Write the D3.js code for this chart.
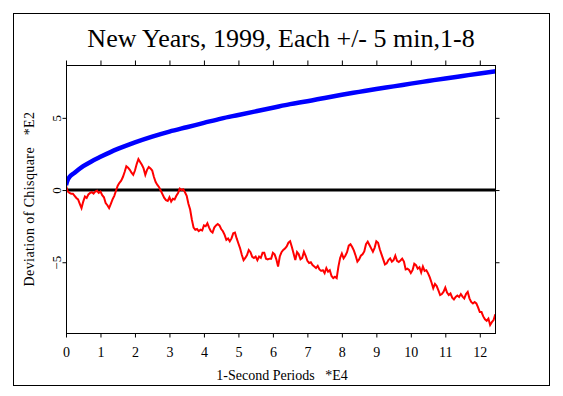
<html lang='en'>
<head>
   <meta charset='UTF-8'>
   <script src='https://d3js.org/d3.v7.min.js'></script>
   <style>
      body{
         margin: 0;
         padding: 0;
         background-color: white;
      }
      text{
         font-family: 'Liberation Serif', 'DejaVu Serif', serif;
         fill: black;
      }
   </style>
</head>
<body>
   <div id='tavola'></div>
   <script>
   // tick labels
   var xTicks = [0,1,2,3,4,5,6,7,8,9,10,11,12];
   var yTicks = [-5,0,5];

   // expected deviation curve (blue), x in E4 periods, y in E2
   var blueX = [0,0.05,0.1,0.25,0.5,0.75,1,1.5,2,2.5,3,3.5,4,4.5,5,5.5,6,6.5,7,7.5,8,8.5,9,9.5,10,10.5,11,11.5,12,12.47];
   var blueY = [0.35,0.7,0.9,1.2,1.65,2.0,2.3,2.85,3.3,3.7,4.05,4.35,4.65,4.95,5.2,5.45,5.7,5.95,6.15,6.38,6.6,6.8,7.0,7.18,7.37,7.55,7.73,7.9,8.07,8.22];

   // cumulative deviation (red), one value every 0.05 E4 periods
   var redStep = 0.05;
   var redY = [
      0.3,-0.1,-0.2,-0.25,-0.25,-0.4,-0.55,-0.65,-0.95,-1.25,
      -0.8,-0.45,-0.55,-0.3,-0.2,-0.15,-0.25,-0.1,-0.05,-0.2,
      -0.1,-0.35,-0.5,-0.9,-1.05,-1.25,-0.95,-0.65,-0.4,-0.05,
      0.3,0.5,0.65,0.9,1.25,1.65,1.55,1.4,1.2,1.05,
      1.35,1.8,2.15,1.95,1.75,1.5,1.05,1.4,1.6,1.5,
      1.35,0.9,0.55,0.35,0.2,-0.05,-0.3,-0.55,-0.7,-0.75,
      -0.5,-0.8,-0.6,-0.65,-0.4,-0.2,0.1,0.0,0.05,
      -0.15,-0.4,-0.95,-1.35,-2.05,-2.6,-2.75,-2.7,-2.85,-2.75,
      -2.8,-2.45,-2.5,-2.3,-2.6,-2.85,-2.95,-2.6,-2.45,-2.35,
      -2.45,-2.7,-2.85,-3.1,-3.45,-3.35,-3.55,-3.35,-3.0,-2.95,
      -3.35,-3.7,-4.05,-4.5,-4.85,-4.7,-4.5,-4.15,-4.3,-4.62,
      -4.7,-4.6,-4.85,-4.6,-4.7,-4.35,-4.35,-4.75,-4.8,-4.75,
      -4.75,-4.35,-4.45,-4.8,-5.3,-4.6,-4.3,-4.15,-4.05,-3.9,
      -3.65,-3.55,-3.95,-4.4,-4.85,
      -4.3,-4.45,-4.8,-4.7,-4.27,-4.55,-4.9,-5.05,-5.0,-5.2,
      -5.3,-5.4,-5.25,-5.5,-5.6,-5.55,-5.75,-5.4,-5.65,-5.55,
      -5.95,-6.1,-6.0,-6.1,-5.3,-4.7,-4.4,-4.73,-4.55,-4.3,
      -3.85,-3.75,-3.95,-4.2,-4.55,-4.95,-4.8,-4.55,-4.45,-4.25,
      -3.75,-3.58,-3.81,-4.04,-4.27,-4.0,-3.55,-3.65,-4.1,-4.45,
      -4.8,-5.15,-5.08,-4.85,-4.73,-4.96,-4.85,-4.55,-4.9,-4.98,
      -4.88,-4.75,-4.95,-5.5,-5.45,-5.54,-5.75,-5.55,-5.1,-5.2,
      -5.45,-5.35,-5.7,-5.3,-5.6,-5.55,-5.77,-6.05,-6.4,-6.8,
      -6.5,-6.65,-6.95,-7.27,-7.2,-7.04,-6.75,-7.1,-7.27,-7.16,
      -7.45,-7.58,-7.4,-7.3,-7.4,-7.2,-7.38,-7.5,-7.2,-7.05,
      -7.5,-7.75,-7.85,-7.75,-7.85,-8.12,-8.45,-8.45,-8.75,-8.95,
      -9.05,-8.9,-9.35,-9.15,-9.0,-8.6
   ];

   var W = 563, H = 396;
   var plotL = 66, plotR = 496, plotT = 65, plotB = 333;

   var svg = d3.select('#tavola').append('svg')
      .attr('width', W)
      .attr('height', H);

   var x = d3.scaleLinear().domain([0, 12.47]).range([plotL, plotR]);
   var y = d3.scaleLinear().domain([-9.9, 8.66]).range([plotB, plotT]);

   // outer frame
   svg.append('rect')
      .attr('x', 13.5).attr('y', 13.5)
      .attr('width', 536).attr('height', 372)
      .attr('fill', 'none')
      .attr('stroke', 'black')
      .attr('stroke-width', 1);

   svg.append('clipPath').attr('id', 'plotclip')
      .append('rect')
      .attr('x', plotL).attr('y', plotT)
      .attr('width', plotR - plotL).attr('height', plotB - plotT);

   var plot = svg.append('g').attr('clip-path', 'url(#plotclip)');

   // zero line
   plot.append('line')
      .attr('x1', x(0)).attr('x2', plotR)
      .attr('y1', y(0)).attr('y2', y(0))
      .attr('stroke', 'black')
      .attr('stroke-width', 3);

   var blueLine = d3.line()
      .x(function(d, i){ return x(blueX[i]); })
      .y(function(d){ return y(d); })
      .curve(d3.curveMonotoneX);

   plot.append('path')
      .attr('d', blueLine(blueY))
      .attr('fill', 'none')
      .attr('stroke', '#0000ff')
      .attr('stroke-width', 4.5);

   var redLine = d3.line()
      .x(function(d, i){ return x(i * redStep); })
      .y(function(d){ return y(d); });

   plot.append('path')
      .attr('d', redLine(redY))
      .attr('fill', 'none')
      .attr('stroke', '#ff0000')
      .attr('stroke-width', 2);

   // plot box
   svg.append('rect')
      .attr('x', plotL + 0.5).attr('y', plotT + 0.5)
      .attr('width', plotR - plotL - 1).attr('height', plotB - plotT)
      .attr('fill', 'none')
      .attr('stroke', 'black')
      .attr('stroke-width', 1);

   // axes
   var gb = svg.append('g')
      .attr('transform', 'translate(0,' + (plotB + 0.5) + ')')
      .call(d3.axisBottom(x).tickValues(xTicks).tickSize(4).tickPadding(10).tickFormat(d3.format('d')));

   var gt = svg.append('g')
      .attr('transform', 'translate(0,' + (plotT + 0.5) + ')')
      .call(d3.axisTop(x).tickValues(xTicks).tickSize(5).tickFormat(''));

   var gr = svg.append('g')
      .attr('transform', 'translate(' + (plotR - 0.5) + ',0)')
      .call(d3.axisRight(y).tickValues(yTicks).tickSize(4).tickFormat(''));

   var gl = svg.append('g')
      .attr('transform', 'translate(' + (plotL + 0.5) + ',0)')
      .call(d3.axisLeft(y).tickValues(yTicks).tickSize(4).tickFormat(d3.format('d')));

   [gb, gt, gr, gl].forEach(function(g){
      g.attr('font-size', null).attr('font-family', null);
      g.select('.domain').remove();
      g.selectAll('line').attr('stroke', 'black');
      g.selectAll('text').attr('fill', 'black');
   });

   gb.selectAll('text').style('font-size', '14px');
   gl.selectAll('text')
      .attr('transform', 'rotate(-90)')
      .attr('x', 0)
      .attr('y', -6)
      .attr('dy', 0)
      .attr('text-anchor', 'middle')
      .style('font-size', '13px');

   // titles
   svg.append('text')
      .attr('x', (plotL + plotR) / 2)
      .attr('y', 47)
      .attr('text-anchor', 'middle')
      .style('font-size', '26px')
      .text('New Years, 1999, Each +/- 5 min,1-8');

   svg.append('text')
      .attr('x', 282)
      .attr('y', 380)
      .attr('text-anchor', 'middle')
      .style('font-size', '14px')
      .style('white-space', 'pre')
      .text('1-Second Periods   *E4');

   svg.append('text')
      .attr('transform', 'translate(34,199) rotate(-90)')
      .attr('text-anchor', 'middle')
      .style('font-size', '14px')
      .style('white-space', 'pre')
      .style('letter-spacing', '0.4px')
      .text('Deviation of Chisquare   *E2');
   </script>
</body>
</html>
